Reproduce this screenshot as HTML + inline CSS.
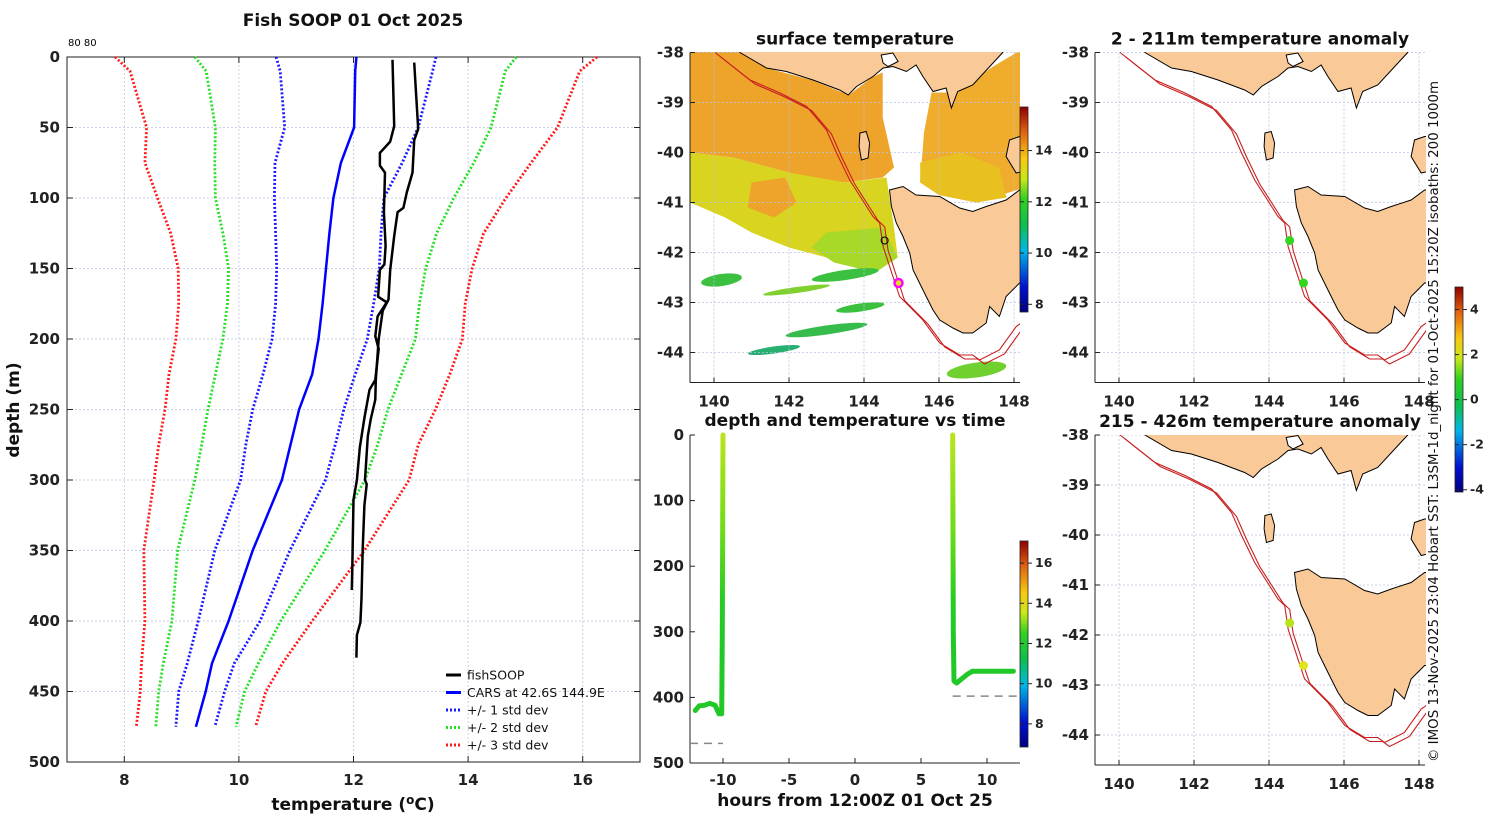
<!DOCTYPE html>
<html><head><meta charset="utf-8"><style>
body{margin:0;background:#fff;}
svg text{font-family:"DejaVu Sans","Liberation Sans",sans-serif;}
.tk{font-size:15px;font-weight:bold;fill:#222;}
.ttl{font-size:17px;font-weight:bold;fill:#111;}
</style></head><body>
<svg id="fig" width="1500" height="820" viewBox="0 0 1500 820" xmlns="http://www.w3.org/2000/svg">
<defs>
<linearGradient id="jet" x1="0" y1="1" x2="0" y2="0">
<stop offset="0" stop-color="#00007f"/><stop offset="0.12" stop-color="#0010d0"/><stop offset="0.3" stop-color="#00b8e8"/><stop offset="0.42" stop-color="#0cc050"/><stop offset="0.55" stop-color="#30d020"/><stop offset="0.65" stop-color="#c8e818"/><stop offset="0.75" stop-color="#f8c810"/><stop offset="0.88" stop-color="#e06010"/><stop offset="1" stop-color="#900000"/>
</linearGradient>
<linearGradient id="trk" gradientUnits="userSpaceOnUse" x1="0" y1="435" x2="0" y2="640">
<stop offset="0" stop-color="#b8e41c"/><stop offset="0.45" stop-color="#70dc18"/><stop offset="0.8" stop-color="#28cc24"/><stop offset="1" stop-color="#22c828"/>
</linearGradient>
<clipPath id="c1"><rect x="690" y="52" width="330" height="330"/></clipPath>
<clipPath id="c2"><rect x="1095" y="52" width="331" height="330"/></clipPath>
<clipPath id="c3"><rect x="1095" y="435" width="331" height="330"/></clipPath>
</defs>
<g id="main"></g>
<g id="maps"></g>
<g id="tplot"></g>
</svg>
<script>
// ===== main profile chart data =====
const stdDepths=[0,10,50,75,100,125,150,175,200,225,250,275,300,350,400,430,450,475];
const carsMean=[12.05,12.03,12.01,11.78,11.65,11.58,11.52,11.46,11.39,11.28,11.05,10.9,10.75,10.24,9.82,9.53,9.42,9.25];
const minus1=[10.65,10.72,10.8,10.63,10.62,10.64,10.66,10.64,10.58,10.42,10.24,10.12,10.03,9.58,9.29,9.1,8.95,8.9];
const plus1=[13.44,13.38,13.13,12.85,12.53,12.48,12.45,12.35,12.24,12.03,11.83,11.68,11.51,10.89,10.37,9.92,9.75,9.58];
const minus2=[9.23,9.43,9.59,9.58,9.59,9.72,9.82,9.8,9.72,9.59,9.46,9.35,9.23,8.93,8.83,8.68,8.6,8.55];
const plus2=[14.84,14.65,14.4,14.1,13.75,13.45,13.26,13.15,13.08,12.84,12.6,12.42,12.2,11.5,10.73,10.34,10.1,9.95];
const minus3=[7.84,8.1,8.39,8.36,8.58,8.81,8.94,8.95,8.9,8.78,8.71,8.6,8.52,8.34,8.36,8.3,8.28,8.21];
const plus3=[16.25,15.95,15.56,15.1,14.66,14.27,14.07,13.95,13.9,13.68,13.43,13.13,12.97,12.19,11.28,10.76,10.47,10.29];
const fishDepthA=[2,49,60,68,77,82,110,134,147,151,170,174,184,198,207,229,236,256,277,300,314,358,378];
const fishTempA=[12.68,12.71,12.64,12.46,12.46,12.55,12.53,12.56,12.54,12.46,12.43,12.58,12.42,12.38,12.44,12.38,12.28,12.19,12.11,12.06,12.0,11.98,11.97];
const fishDepthB=[4,51,59,82,96,107,110,127,151,172,180,200,229,243,257,269,300,303,318,349,384,401,410,426];
const fishTempB=[13.06,13.13,13.06,13.03,12.93,12.87,12.77,12.71,12.64,12.61,12.51,12.44,12.39,12.38,12.3,12.25,12.2,12.23,12.19,12.16,12.14,12.12,12.06,12.05];
const tempTicks=[8,10,12,14,16];
const depthTicks=[0,50,100,150,200,250,300,350,400,450,500];
// ===== time plot data =====
const hoursA=[-12.1,-11.8,-11.4,-11.0,-10.6,-10.3,-10.1,-10.05,-10.0];
const tdepthA=[420,413,412,409,412,425,425,300,0];
const hoursB=[7.4,7.45,7.5,7.7,8.2,8.5,8.9,9.5,12.0];
const tdepthB=[0,300,375,378,370,365,360,360,360];
const hourTicks=[-10,-5,0,5,10];
const tDepthTicks=[0,100,200,300,400,500];
// ===== map data =====
const lonTicks=[140,142,144,146,148];
const latTicks=[-38,-39,-40,-41,-42,-43,-44];
const shipLon=[144.55,144.92];
const shipLat=[-41.76,-42.61];
const anom1Colors=["#33d61e","#33d61e"];
const anom2Colors=["#b8e41e","#e0e41c"];

const NS="http://www.w3.org/2000/svg";
function mk(p,tag,attrs){const e=document.createElementNS(NS,tag);for(const k in attrs)e.setAttribute(k,attrs[k]);p.appendChild(e);return e;}

// ---------- MAIN ----------
const main=document.getElementById('main');
const X0=67,X1=640,Y0=57,Y1=762;
const xT=t=>X0+(t-7)*(X1-X0)/10;
const yD=d=>Y0+d*(Y1-Y0)/500;
let t=mk(main,'text',{x:353,y:26,'text-anchor':'middle',class:'ttl'});t.textContent='Fish SOOP 01 Oct 2025';

t=mk(main,'text',{x:68,y:46,'font-size':'10'});t.textContent='80 80';

tempTicks.forEach(v=>{
  const g=mk(main,'line',{x1:xT(v),x2:xT(v),y1:Y0,y2:Y1,stroke:'#b8c4e0','stroke-width':0.8,'stroke-dasharray':'2,2'});
  
  mk(main,'line',{x1:xT(v),x2:xT(v),y1:Y1,y2:Y1-6,stroke:'#222'});
  mk(main,'line',{x1:xT(v),x2:xT(v),y1:Y0,y2:Y0+6,stroke:'#222'});
  const l=mk(main,'text',{x:xT(v),y:Y1+23,'text-anchor':'middle',class:'tk'});l.textContent=v;
  
});
depthTicks.forEach(v=>{
  const g=mk(main,'line',{x1:X0,x2:X1,y1:yD(v),y2:yD(v),stroke:'#b8c4e0','stroke-width':0.8,'stroke-dasharray':'2,2'});
  
  mk(main,'line',{x1:X0,x2:X0+6,y1:yD(v),y2:yD(v),stroke:'#222'});
  mk(main,'line',{x1:X1,x2:X1-6,y1:yD(v),y2:yD(v),stroke:'#222'});
  const l=mk(main,'text',{x:X0-7,y:yD(v)+5,'text-anchor':'end',class:'tk'});l.textContent=v;
  
});
const fr=mk(main,'rect',{x:X0,y:Y0,width:X1-X0,height:Y1-Y0,fill:'none',stroke:'#222','stroke-width':1});

t=mk(main,'text',{x:353,y:810,'text-anchor':'middle',class:'ttl'});
t.innerHTML='temperature (<tspan dy="-6" font-size="12">o</tspan><tspan dy="6">C)</tspan>';

t=mk(main,'text',{x:0,y:0,'text-anchor':'middle',class:'ttl',transform:'translate(19,410) rotate(-90)'});t.textContent='depth (m)';

function prof(temps,depths,color,dash,w,name){
  const pts=temps.map((v,i)=>xT(v).toFixed(1)+','+yD(depths[i]).toFixed(1)).join(' ');
  const p=mk(main,'polyline',{points:pts,fill:'none',stroke:color,'stroke-width':w,'stroke-dasharray':dash,'stroke-linejoin':'round'});
  
}
prof(minus3,stdDepths,'#ff1a1a','2,2',2.8,'minus-3-std-line');
prof(plus3,stdDepths,'#ff1a1a','2,2',2.8,'plus-3-std-line');
prof(minus2,stdDepths,'#22e022','2,2',2.8,'minus-2-std-line');
prof(plus2,stdDepths,'#22e022','2,2',2.8,'plus-2-std-line');
prof(minus1,stdDepths,'#1a1aff','2,2',2.8,'minus-1-std-line');
prof(plus1,stdDepths,'#1a1aff','2,2',2.8,'plus-1-std-line');
prof(carsMean,stdDepths,'#0000ff','none',2.5,'cars-mean-line');
prof(fishTempA,fishDepthA,'#000','none',2.5,'fishsoop-profile-a');
prof(fishTempB,fishDepthB,'#000','none',2.5,'fishsoop-profile-b');
// legend
const legItems=[['fishSOOP','#000','none'],['CARS at 42.6S 144.9E','#0000ff','none'],['+/- 1 std dev','#1a1aff','2,2'],['+/- 2 std dev','#22e022','2,2'],['+/- 3 std dev','#ff1a1a','2,2']];
legItems.forEach((it,i)=>{
  const y=675+i*17.5;
  const g=mk(main,'g',{});
  
  mk(g,'line',{x1:446,x2:461,y1:y,y2:y,stroke:it[1],'stroke-width':3,'stroke-dasharray':it[2]});
  const l=mk(g,'text',{x:467,y:y+4.5,'font-size':'12.5',fill:'#111'});l.textContent=it[0];
});

// ---------- MAPS ----------
const maps=document.getElementById('maps');
const vic=[[139.36,-37.9],[140.69,-37.9],[140.69,-38.0],[141.4,-38.31],[141.93,-38.38],[142.64,-38.55],[143.35,-38.75],[143.58,-38.85],[143.8,-38.68],[144.24,-38.48],[144.51,-38.31],[144.77,-38.28],[145.13,-38.38],[145.39,-38.25],[145.57,-38.48],[145.84,-38.78],[146.19,-38.71],[146.33,-39.11],[146.5,-38.78],[146.9,-38.65],[147.44,-38.21],[147.7,-38.0],[147.7,-37.9]];
const ppBay=[[144.46,-38.05],[144.77,-38.01],[144.91,-38.18],[144.64,-38.28],[144.51,-38.21]];
const tas=[[144.68,-40.75],[145.04,-40.68],[145.39,-40.85],[146.02,-40.88],[146.55,-41.11],[146.9,-41.18],[147.26,-41.08],[147.79,-40.95],[148.15,-40.75],[148.4,-40.75],[148.4,-42.61],[148.15,-42.61],[147.79,-42.88],[147.61,-43.28],[147.35,-43.08],[147.26,-43.41],[146.9,-43.61],[146.64,-43.61],[146.37,-43.51],[146.02,-43.35],[145.84,-43.15],[145.66,-42.88],[145.48,-42.61],[145.31,-42.35],[145.22,-42.01],[145.04,-41.68],[144.86,-41.41],[144.73,-41.08]];
const king=[[143.89,-39.61],[144.06,-39.58],[144.15,-39.81],[144.11,-40.11],[143.93,-40.15],[143.87,-39.88]];
const flinders=[[147.88,-39.75],[148.15,-39.68],[148.4,-39.68],[148.4,-40.35],[148.06,-40.41],[147.79,-40.08]];
const iso=[[140.03,-38],[140.96,-38.55],[141.76,-38.81],[142.47,-39.08],[143.0,-39.55],[143.27,-40.01],[143.62,-40.55],[144.24,-41.28],[144.42,-41.41],[144.51,-41.88],[144.77,-42.48],[144.95,-42.88],[145.57,-43.35],[146.02,-43.81],[146.55,-44.05],[146.9,-44.05],[147.08,-44.15],[147.61,-43.95],[148.06,-43.48],[148.4,-43.3]];
function drawMap(x0,y0,clip,title,name,field){
  const g=mk(maps,'g',{});
  
  const px=lon=>x0+(lon-139.36)*37.5, py=lat=>y0+(-38-lat)*50;
  const P=a=>a.map(p=>px(p[0]).toFixed(1)+','+py(p[1]).toFixed(1)).join(' ');
  const inner=mk(g,'g',{'clip-path':'url(#'+clip+')'});
  if(field){
    const f=mk(inner,'g',{});
    
    const polys=[
      [[[139.36,-37.9],[140.7,-37.9],[141.4,-38.31],[142.6,-38.55],[143.6,-38.85],[144.2,-38.5],[144.5,-38.4],[144.5,-39.3],[144.8,-40.3],[144.5,-40.5],[143.5,-40.6],[142.5,-40.5],[141.5,-40.3],[140.5,-40.1],[139.36,-40.0]],'#eea42a'],
      [[[145.8,-38.8],[146.5,-38.8],[147.4,-38.3],[148.3,-37.9],[148.3,-40.7],[147,-41],[146,-40.85],[145.5,-40.6],[145.6,-39.6]],'#f0ac2c'],
      [[[145.5,-40.2],[146.6,-40.0],[147.6,-40.3],[147.8,-40.9],[147,-41.0],[146,-40.85],[145.5,-40.6]],'#e8c020'],
      [[[139.36,-40.0],[140.5,-40.1],[142,-40.4],[143.5,-40.6],[144.6,-40.5],[144.8,-41.5],[144.9,-42.1],[144.3,-42.4],[143,-42.1],[142,-41.9],[141,-41.6],[140.3,-41.3],[139.36,-41.0]],'#d8d420'],
      [[[143.0,-41.6],[144.5,-41.5],[144.9,-42.1],[144.3,-42.4],[143.2,-42.2],[142.6,-41.9]],'#a8d828'],
      [[[141.0,-40.6],[141.9,-40.5],[142.2,-41.0],[141.6,-41.3],[140.9,-41.1]],'#eea42a'],
      [[[144.6,-38.4],[145.6,-38.5],[145.6,-39.6],[145.4,-40.3],[144.9,-40.4],[144.6,-39.5]],'#ffffff'],
      [[[139.36,-41.2],[140.2,-41.3],[140.6,-41.8],[139.36,-42.0]],'#ffffff']
    ];
    polys.forEach(pp=>mk(f,'polygon',{points:P(pp[0]),fill:pp[1]}));
    const streaks=[[140.2,-42.55,0.55,0.12,'#3cc040'],[143.5,-42.45,0.9,0.1,'#3cc040'],[142.2,-42.75,0.9,0.06,'#80d030'],[143.9,-43.1,0.65,0.08,'#3cc040'],[143.0,-43.55,1.1,0.09,'#36bc4a'],[141.6,-43.95,0.7,0.07,'#28b070'],[147.0,-44.35,0.8,0.15,'#70d030']];
    streaks.forEach(s=>mk(f,'ellipse',{cx:px(s[0]),cy:py(s[1]),rx:s[2]*37.5,ry:s[3]*50,fill:s[4],transform:'rotate(-8 '+px(s[0])+' '+py(s[1])+')'}));
  }
  lonTicks.forEach(v=>mk(inner,'line',{x1:px(v),x2:px(v),y1:y0,y2:y0+330,stroke:'#b8c4e0','stroke-width':0.8,'stroke-dasharray':'2,2'}));
  latTicks.forEach(v=>mk(inner,'line',{x1:x0,x2:x0+330,y1:py(v),y2:py(v),stroke:'#b8c4e0','stroke-width':0.8,'stroke-dasharray':'2,2'}));
  [vic,tas,king,flinders].forEach(a=>{const l=mk(inner,'polygon',{points:P(a),fill:'#f9c998',stroke:'#000','stroke-width':1});});
  mk(inner,'polygon',{points:P(ppBay),fill:'#fff',stroke:'#000','stroke-width':1});
  const i1=mk(inner,'polyline',{points:P(iso),fill:'none',stroke:'#c81e1e','stroke-width':1.1});
  
  const i2=mk(inner,'polyline',{points:P(iso),fill:'none',stroke:'#c81e1e','stroke-width':1.1,transform:'translate(5,4)'});
  
  mk(g,'line',{x1:x0,x2:x0,y1:y0,y2:y0+330,stroke:'#222'});
  mk(g,'line',{x1:x0,x2:x0+330,y1:y0+330,y2:y0+330,stroke:'#222'});
  lonTicks.forEach(v=>{
    mk(g,'line',{x1:px(v),x2:px(v),y1:y0+330,y2:y0+325,stroke:'#222'});
    const l=mk(g,'text',{x:px(v),y:y0+354,'text-anchor':'middle',class:'tk'});l.textContent=v;
    
  });
  latTicks.forEach(v=>{
    mk(g,'line',{x1:x0,x2:x0+5,y1:py(v),y2:py(v),stroke:'#222'});
    const l=mk(g,'text',{x:x0-6,y:py(v)+5,'text-anchor':'end',class:'tk'});l.textContent=v;
    
  });
  const tt=mk(g,'text',{x:x0+165,y:y0-8,'text-anchor':'middle',class:'ttl'});tt.textContent=title;
  
  return {g,px,py};
}
const m1=drawMap(690,52.5,'c1','surface temperature','sst-map',true);
const mk1=mk(m1.g,'circle',{cx:m1.px(shipLon[0]),cy:m1.py(shipLat[0]),r:3.5,fill:'none',stroke:'#000','stroke-width':1});

const mk2=mk(m1.g,'circle',{cx:m1.px(shipLon[1]),cy:m1.py(shipLat[1]),r:4,fill:'#e0e020',stroke:'#ff00ff','stroke-width':2.5});

const m2=drawMap(1095,52.5,'c2','2 - 211m temperature anomaly','anomaly-map-shallow',false);
const m3=drawMap(1095,435,'c3','215 - 426m temperature anomaly','anomaly-map-deep',false);
shipLon.forEach((lo,i)=>{
  const a=mk(m2.g,'circle',{cx:m2.px(lo),cy:m2.py(shipLat[i]),r:4.5,fill:anom1Colors[i]});
  
  const b=mk(m3.g,'circle',{cx:m3.px(lo),cy:m3.py(shipLat[i]),r:4.5,fill:anom2Colors[i]});
  
});
// colorbars
function cbar(x,y0,y1,vmin,vmax,ticks,name){
  const g=mk(maps,'g',{});
  
  mk(g,'rect',{x:x,y:y0,width:8,height:y1-y0,fill:'url(#jet)',stroke:'#222','stroke-width':0.8});
  ticks.forEach(v=>{
    const yy=y1-(v-vmin)/(vmax-vmin)*(y1-y0);
    mk(g,'line',{x1:x,x2:x+4,y1:yy,y2:yy,stroke:'#222'});
    mk(g,'line',{x1:x+8,x2:x+12,y1:yy,y2:yy,stroke:'#222'});
    const l=mk(g,'text',{x:x+15,y:yy+4,'font-size':'12.5','font-weight':'bold',fill:'#222'});l.textContent=v;
  });
}
cbar(1020,107,312,7.7,15.7,[8,10,12,14],'sst-colorbar');
cbar(1020,541,747,6.85,17.1,[8,10,12,14,16],'time-colorbar');
cbar(1455,287,492,-4.1,5.0,[-4,-2,0,2,4],'anomaly-colorbar');
t=mk(maps,'text',{x:0,y:0,'font-size':'13.4',fill:'#111',transform:'translate(1438,762) rotate(-90)'});
t.textContent='© IMOS 13-Nov-2025 23:04 Hobart SST: L3SM-1d_night for 01-Oct-2025 15:20Z isobaths: 200  1000m';


// ---------- TIME PLOT ----------
const tp=document.getElementById('tplot');
const hx=h=>855+h*13.2, dy=d=>435+d*328/500;
hourTicks.forEach(v=>{
  mk(tp,'line',{x1:hx(v),x2:hx(v),y1:763,y2:758,stroke:'#222'});
  const l=mk(tp,'text',{x:hx(v),y:785,'text-anchor':'middle',class:'tk'});l.textContent=v;
  
});
tDepthTicks.forEach(v=>{
  mk(tp,'line',{x1:690,x2:695,y1:dy(v),y2:dy(v),stroke:'#222'});
  const l=mk(tp,'text',{x:684,y:dy(v)+5,'text-anchor':'end',class:'tk'});l.textContent=v;
  
});
mk(tp,'line',{x1:690,x2:690,y1:435,y2:763,stroke:'#222'});
mk(tp,'line',{x1:690,x2:1020,y1:763,y2:763,stroke:'#222'});
t=mk(tp,'text',{x:855,y:426,'text-anchor':'middle',class:'ttl'});t.textContent='depth and temperature vs time';

t=mk(tp,'text',{x:855,y:806,'text-anchor':'middle',class:'ttl'});t.textContent='hours from 12:00Z 01 Oct 25';

const dl1=mk(tp,'line',{x1:690,x2:hx(-10),y1:dy(470),y2:dy(470),stroke:'#888','stroke-width':1.5,'stroke-dasharray':'8,6'});

const dl2=mk(tp,'line',{x1:hx(7.4),x2:1020,y1:dy(398),y2:dy(398),stroke:'#888','stroke-width':1.5,'stroke-dasharray':'8,6'});

[[hoursA,tdepthA,'track-deployment-1'],[hoursB,tdepthB,'track-deployment-2']].forEach(s=>{
  const pts=s[0].map((h,i)=>hx(h).toFixed(1)+','+dy(s[1][i]).toFixed(1)).join(' ');
  const p=mk(tp,'polyline',{points:pts,fill:'none',stroke:'url(#trk)','stroke-width':5,'stroke-linejoin':'round','stroke-linecap':'round'});
  
});
</script>
</body></html>
